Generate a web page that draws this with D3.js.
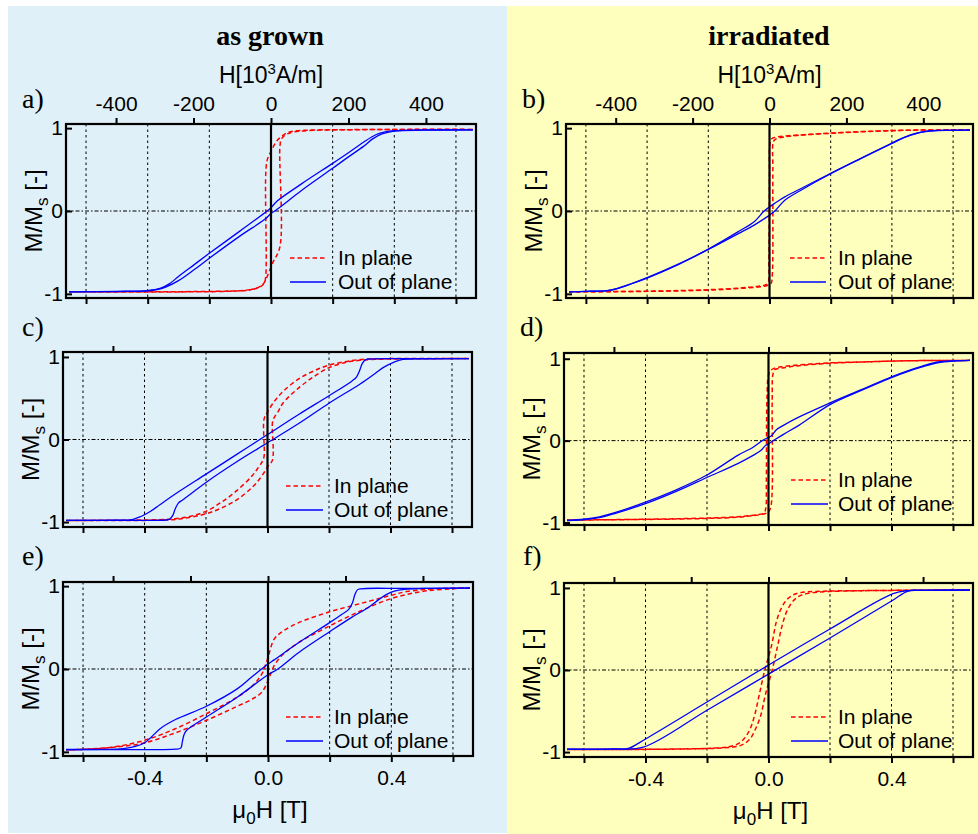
<!DOCTYPE html>
<html>
<head>
<meta charset="utf-8">
<script src="https://cdn.jsdelivr.net/npm/d3@7/dist/d3.min.js"></script>
<style>
  body { margin: 0; background: #ffffff; }
  svg { display: block; }
</style>
</head>
<body>
<svg id="chart" width="978" height="834"></svg>
<script>
// ---------- tick values and labels ----------
const fieldTicks = [-0.6, -0.4, -0.2, 0, 0.2, 0.4, 0.6];      // mu0*H [T]
const fieldLabels = [-0.4, 0, 0.4];                             // labelled field ticks
const hTicks = [-400, -200, 0, 200, 400];                       // H [10^3 A/m]
const mTicks = [-1, 0, 1];                                      // M/Ms
const columnTitles = ["as grown", "irradiated"];
const panelLetters = ["a)", "b)", "c)", "d)", "e)", "f)"];
const legendLabels = ["In plane", "Out of plane"];

// ---------- hysteresis branches: [mu0H (T), M/Ms] ----------
// a) as grown
const aInDown = [[0.655,0.985],[0.3,0.982],[0.15,0.978],[0.075,0.965],[0.05,0.94],[0.02,0.85],[0.0,0.72],[-0.012,0.62],[-0.017,0.45],[-0.017,-0.78],[-0.022,-0.87],[-0.04,-0.925],[-0.08,-0.955],[-0.15,-0.968],[-0.655,-0.975]];
const aInUp = [[-0.655,-0.975],[-0.15,-0.97],[-0.066,-0.95],[-0.035,-0.91],[-0.023,-0.87],[0.005,-0.63],[0.029,-0.43],[0.029,0.78],[0.034,0.87],[0.05,0.925],[0.075,0.955],[0.15,0.975],[0.655,0.985]];
const aOutDown = [[0.655,0.98],[0.5,0.978],[0.4,0.97],[0.37,0.955],[0.34,0.92],[0.3,0.83],[0.25,0.7],[0.2,0.575],[0.1,0.33],[0.02,0.12],[0,0.04],[-0.02,-0.02],[-0.1,-0.24],[-0.2,-0.51],[-0.25,-0.65],[-0.3,-0.79],[-0.33,-0.88],[-0.36,-0.935],[-0.4,-0.96],[-0.5,-0.97],[-0.655,-0.975]];
const aOutUp = [[-0.655,-0.975],[-0.5,-0.972],[-0.4,-0.965],[-0.37,-0.95],[-0.34,-0.915],[-0.3,-0.84],[-0.25,-0.71],[-0.2,-0.57],[-0.1,-0.3],[-0.02,-0.1],[0,-0.03],[0.02,0.02],[0.1,0.25],[0.2,0.515],[0.25,0.65],[0.3,0.78],[0.33,0.87],[0.36,0.93],[0.4,0.965],[0.5,0.975],[0.655,0.98]];

// b) irradiated
const bInDown = [[0.655,0.98],[0.45,0.975],[0.3,0.958],[0.2,0.94],[0.1,0.918],[0.05,0.905],[0.02,0.89],[0.006,0.87],[0.001,0.8],[0,0.4],[-0.002,-0.6],[-0.004,-0.86],[-0.012,-0.89],[-0.04,-0.91],[-0.1,-0.93],[-0.2,-0.95],[-0.4,-0.968],[-0.655,-0.975]];
const bInUp = [[-0.655,-0.975],[-0.4,-0.97],[-0.2,-0.955],[-0.1,-0.935],[-0.03,-0.915],[-0.008,-0.9],[0.005,-0.875],[0.009,-0.78],[0.011,0.5],[0.013,0.84],[0.022,0.872],[0.05,0.895],[0.1,0.915],[0.2,0.938],[0.3,0.956],[0.45,0.975],[0.655,0.98]];
const bOutDown = [[0.655,0.975],[0.55,0.972],[0.51,0.962],[0.48,0.94],[0.44,0.89],[0.4,0.82],[0.3,0.64],[0.2,0.455],[0.1,0.265],[0.05,0.17],[0.02,0.1],[0,0.05],[-0.02,-0.01],[-0.05,-0.13],[-0.1,-0.245],[-0.2,-0.46],[-0.3,-0.645],[-0.4,-0.805],[-0.45,-0.875],[-0.5,-0.937],[-0.53,-0.96],[-0.6,-0.97],[-0.655,-0.975]];
const bOutUp = [[-0.655,-0.975],[-0.6,-0.97],[-0.53,-0.962],[-0.5,-0.94],[-0.45,-0.878],[-0.4,-0.81],[-0.3,-0.65],[-0.2,-0.465],[-0.1,-0.27],[-0.05,-0.17],[-0.02,-0.1],[0,-0.05],[0.02,0.01],[0.05,0.13],[0.1,0.245],[0.2,0.45],[0.3,0.635],[0.4,0.815],[0.44,0.885],[0.48,0.935],[0.51,0.958],[0.55,0.97],[0.655,0.975]];

// c) as grown
const cInDown = [[0.655,0.98],[0.4,0.98],[0.33,0.975],[0.28,0.96],[0.2,0.9],[0.15,0.83],[0.1,0.73],[0.05,0.58],[0.02,0.45],[0.0,0.33],[-0.011,0.25],[-0.011,-0.2],[-0.016,-0.26],[-0.03,-0.34],[-0.05,-0.44],[-0.1,-0.62],[-0.15,-0.76],[-0.2,-0.87],[-0.25,-0.93],[-0.3,-0.96],[-0.4,-0.975],[-0.655,-0.98]];
const cInUp = [[-0.655,-0.98],[-0.4,-0.98],[-0.33,-0.975],[-0.28,-0.96],[-0.2,-0.9],[-0.15,-0.83],[-0.1,-0.73],[-0.05,-0.58],[-0.02,-0.45],[0.0,-0.33],[0.016,-0.25],[0.016,0.2],[0.021,0.26],[0.035,0.34],[0.05,0.44],[0.1,0.62],[0.15,0.76],[0.2,0.87],[0.25,0.93],[0.3,0.96],[0.4,0.975],[0.655,0.98]];
const cOutDown = [[0.655,0.98],[0.45,0.98],[0.33,0.975],[0.318,0.965],[0.308,0.92],[0.3,0.84],[0.29,0.76],[0.275,0.71],[0.2,0.53],[0.1,0.3],[0,0.06],[-0.1,-0.18],[-0.2,-0.42],[-0.3,-0.66],[-0.35,-0.79],[-0.38,-0.87],[-0.41,-0.93],[-0.44,-0.97],[-0.5,-0.978],[-0.655,-0.98]];
const cOutUp = [[-0.655,-0.98],[-0.45,-0.98],[-0.33,-0.975],[-0.318,-0.965],[-0.308,-0.92],[-0.3,-0.84],[-0.29,-0.77],[-0.275,-0.73],[-0.2,-0.52],[-0.1,-0.27],[0,-0.04],[0.1,0.19],[0.2,0.44],[0.3,0.67],[0.35,0.8],[0.38,0.88],[0.41,0.935],[0.44,0.97],[0.5,0.978],[0.655,0.98]];

// d) irradiated
const dInDown = [[0.655,0.98],[0.45,0.975],[0.3,0.96],[0.2,0.95],[0.1,0.925],[0.05,0.905],[0.02,0.885],[0.008,0.86],[0,0.8],[-0.005,0.5],[-0.007,-0.5],[-0.009,-0.83],[-0.015,-0.885],[-0.05,-0.91],[-0.1,-0.93],[-0.2,-0.945],[-0.4,-0.96],[-0.655,-0.97]];
const dInUp = [[-0.655,-0.97],[-0.4,-0.962],[-0.2,-0.95],[-0.1,-0.935],[-0.05,-0.915],[-0.015,-0.895],[0.0,-0.87],[0.008,-0.8],[0.012,0.5],[0.014,0.8],[0.02,0.865],[0.05,0.89],[0.1,0.915],[0.2,0.945],[0.3,0.96],[0.45,0.975],[0.655,0.98]];
const dOutDown = [[0.655,0.98],[0.6,0.975],[0.55,0.96],[0.5,0.91],[0.45,0.85],[0.4,0.78],[0.3,0.62],[0.2,0.46],[0.1,0.29],[0.05,0.19],[0.025,0.13],[0.01,0.06],[0,0.04],[-0.02,0.0],[-0.05,-0.08],[-0.1,-0.18],[-0.2,-0.42],[-0.3,-0.6],[-0.4,-0.75],[-0.5,-0.88],[-0.55,-0.93],[-0.6,-0.96],[-0.655,-0.975]];
const dOutUp = [[-0.655,-0.975],[-0.6,-0.965],[-0.55,-0.94],[-0.5,-0.89],[-0.4,-0.77],[-0.3,-0.62],[-0.2,-0.45],[-0.1,-0.28],[-0.05,-0.18],[-0.025,-0.12],[-0.01,-0.06],[0,-0.04],[0.02,0.01],[0.05,0.08],[0.1,0.19],[0.2,0.44],[0.3,0.61],[0.4,0.77],[0.45,0.84],[0.5,0.9],[0.55,0.95],[0.6,0.972],[0.655,0.98]];

// e) as grown
const eInDown = [[0.655,0.98],[0.55,0.97],[0.45,0.935],[0.4,0.89],[0.3,0.79],[0.2,0.69],[0.1,0.56],[0.05,0.46],[0.02,0.36],[0,0.14],[-0.02,-0.06],[-0.05,-0.2],[-0.1,-0.34],[-0.2,-0.54],[-0.3,-0.72],[-0.4,-0.86],[-0.5,-0.94],[-0.6,-0.97],[-0.655,-0.975]];
const eInUp = [[-0.655,-0.975],[-0.6,-0.97],[-0.5,-0.945],[-0.4,-0.89],[-0.3,-0.77],[-0.2,-0.62],[-0.1,-0.45],[-0.05,-0.36],[-0.02,-0.28],[0,-0.14],[0.02,0.04],[0.05,0.18],[0.1,0.32],[0.2,0.52],[0.3,0.7],[0.4,0.85],[0.5,0.935],[0.6,0.97],[0.655,0.98]];
const eOutDown = [[0.655,0.975],[0.45,0.972],[0.3,0.968],[0.29,0.955],[0.282,0.9],[0.274,0.8],[0.262,0.72],[0.24,0.66],[0.2,0.56],[0.1,0.32],[0.02,0.11],[0,0.06],[-0.054,-0.1],[-0.1,-0.24],[-0.2,-0.45],[-0.3,-0.61],[-0.35,-0.72],[-0.378,-0.82],[-0.4,-0.89],[-0.43,-0.935],[-0.47,-0.96],[-0.655,-0.97]];
const eOutUp = [[-0.655,-0.975],[-0.45,-0.972],[-0.3,-0.968],[-0.283,-0.955],[-0.278,-0.88],[-0.273,-0.8],[-0.265,-0.745],[-0.2,-0.58],[-0.1,-0.34],[0,-0.07],[0.032,0.0],[0.1,0.2],[0.2,0.45],[0.27,0.62],[0.324,0.74],[0.36,0.84],[0.385,0.9],[0.41,0.94],[0.443,0.962],[0.5,0.972],[0.655,0.975]];

// f) irradiated
const fInDown = [[0.655,0.975],[0.3,0.967],[0.15,0.957],[0.1,0.94],[0.08,0.915],[0.06,0.86],[0.04,0.74],[0.025,0.58],[0.01,0.3],[-0.012,0.0],[-0.03,-0.3],[-0.045,-0.55],[-0.06,-0.72],[-0.08,-0.84],[-0.1,-0.9],[-0.13,-0.935],[-0.2,-0.955],[-0.655,-0.97]];
const fInUp = [[-0.655,-0.97],[-0.3,-0.964],[-0.15,-0.95],[-0.1,-0.93],[-0.08,-0.9],[-0.06,-0.84],[-0.04,-0.7],[-0.025,-0.55],[-0.01,-0.3],[0.012,0.0],[0.03,0.3],[0.045,0.55],[0.06,0.72],[0.08,0.84],[0.1,0.9],[0.13,0.935],[0.2,0.957],[0.655,0.975]];
const fOutDown = [[0.655,0.975],[0.5,0.972],[0.454,0.968],[0.405,0.93],[0.2,0.5],[0,0.06],[-0.2,-0.39],[-0.4,-0.84],[-0.456,-0.955],[-0.5,-0.962],[-0.655,-0.965]];
const fOutUp = [[-0.655,-0.965],[-0.5,-0.962],[-0.407,-0.94],[-0.2,-0.49],[0,-0.05],[0.2,0.39],[0.4,0.84],[0.454,0.962],[0.5,0.97],[0.655,0.975]];

// ---------- layout ----------
const MU0 = 4e-7 * Math.PI;
const T_DOMAIN = [-0.665, 0.665];
const BG_LEFT = "#dff0f8";
const BG_RIGHT = "#ffffbd";
const RED = "#ff0000";
const BLUE = "#0000ff";
const SANS = "'Liberation Sans', Arial, Helvetica, sans-serif";
const SERIF = "'Liberation Serif', 'Times New Roman', serif";

const panels = [
  { row: 0, x: 66,  y: 124, w: 410, h: 174, yDom: [-1.05, 1.05], inPlane: [aInDown, aInUp], outPlane: [aOutDown, aOutUp], leg: [224, 260, 272, 134], letter: [22, 108] },
  { row: 0, x: 566, y: 124, w: 407, h: 174, yDom: [-1.05, 1.05], inPlane: [bInDown, bInUp], outPlane: [bOutDown, bOutUp], leg: [224, 260, 272, 134], letter: [522, 108] },
  { row: 1, x: 63,  y: 352, w: 409, h: 175, yDom: [-1.06, 1.06], inPlane: [cInDown, cInUp], outPlane: [cOutDown, cOutUp], leg: [223, 260, 271, 134], letter: [22, 336] },
  { row: 1, x: 564, y: 353, w: 409, h: 172, yDom: [-1.03, 1.07], inPlane: [dInDown, dInUp], outPlane: [dOutDown, dOutUp], leg: [227, 264, 274, 127], letter: [520, 336] },
  { row: 2, x: 63,  y: 582, w: 410, h: 174, yDom: [-1.05, 1.05], inPlane: [eInDown, eInUp], outPlane: [eOutDown, eOutUp], leg: [223, 260, 271, 135], letter: [22, 565] },
  { row: 2, x: 564, y: 583, w: 409, h: 174, yDom: [-1.06, 1.06], inPlane: [fInDown, fInUp], outPlane: [fOutDown, fOutUp], leg: [227, 264, 274, 134], letter: [523, 565] }
];

const svg = d3.select("#chart");

// column backgrounds
svg.append("rect").attr("x", 8).attr("y", 6).attr("width", 499).attr("height", 827).attr("fill", BG_LEFT);
svg.append("rect").attr("x", 507).attr("y", 6).attr("width", 471).attr("height", 828).attr("fill", BG_RIGHT);

// column titles
[270, 769].forEach((cx, i) => {
  svg.append("text").attr("x", cx).attr("y", 45).attr("text-anchor", "middle")
    .attr("font-family", SERIF).attr("font-weight", "bold").attr("font-size", 28)
    .text(columnTitles[i]);
});

function styleAxis(sel) {
  sel.attr("font-family", SANS).attr("font-size", 21);
  sel.select(".domain").remove();
  sel.selectAll(".tick line").attr("stroke", "#000").attr("stroke-width", 2);
  sel.selectAll(".tick text").attr("fill", "#000");
}

panels.forEach((p, i) => {
  const g = svg.append("g").attr("transform", `translate(${p.x},${p.y})`);
  const x = d3.scaleLinear().domain(T_DOMAIN).range([0, p.w]);
  const hx = d3.scaleLinear().domain(T_DOMAIN.map(t => t / MU0 / 1000)).range([0, p.w]);
  const y = d3.scaleLinear().domain(p.yDom).range([p.h, 0]);

  // dotted field grid
  g.selectAll("line.vgrid").data(fieldTicks.filter(v => v !== 0)).join("line")
    .attr("class", "vgrid")
    .attr("x1", d => x(d)).attr("x2", d => x(d)).attr("y1", 0).attr("y2", p.h)
    .attr("stroke", "#000").attr("stroke-width", 1).attr("stroke-dasharray", "2.5,3");
  // dash-dot zero magnetisation line
  g.append("line").attr("x1", 0).attr("x2", p.w).attr("y1", y(0)).attr("y2", y(0))
    .attr("stroke", "#000").attr("stroke-width", 1).attr("stroke-dasharray", "4,2,1.5,2");

  // legend (drawn under the curves)
  const [lx0, lx1, tx, ly] = p.leg;
  g.append("line").attr("x1", lx0).attr("x2", lx1).attr("y1", ly).attr("y2", ly)
    .attr("stroke", RED).attr("stroke-width", 1.5).attr("stroke-dasharray", "4.5,3");
  g.append("line").attr("x1", lx0).attr("x2", lx1).attr("y1", ly + 24).attr("y2", ly + 24)
    .attr("stroke", BLUE).attr("stroke-width", 1.4);
  legendLabels.forEach((lab, k) => {
    g.append("text").attr("x", tx).attr("y", ly + 24 * k).attr("dy", "0.35em")
      .attr("font-family", SANS).attr("font-size", 21).text(lab);
  });

  const line = d3.line().x(d => x(d[0])).y(d => y(d[1])).curve(d3.curveCatmullRom.alpha(0.5));
  p.inPlane.forEach(branch => {
    g.append("path").attr("d", line(branch)).attr("fill", "none")
      .attr("stroke", RED).attr("stroke-width", 1.5).attr("stroke-dasharray", "4.5,3");
  });
  p.outPlane.forEach(branch => {
    g.append("path").attr("d", line(branch)).attr("fill", "none")
      .attr("stroke", BLUE).attr("stroke-width", 1.3);
  });

  // zero field line
  g.append("line").attr("x1", x(0)).attr("x2", x(0)).attr("y1", 0).attr("y2", p.h)
    .attr("stroke", "#000").attr("stroke-width", 2.2);
  // frame
  g.append("rect").attr("width", p.w).attr("height", p.h).attr("fill", "none")
    .attr("stroke", "#000").attr("stroke-width", 2.2);

  // axes
  g.append("g").attr("transform", `translate(0,${p.h})`)
    .call(d3.axisBottom(x).tickValues(fieldTicks).tickSize(6).tickPadding(8)
      .tickFormat(d => (p.row === 2 && fieldLabels.includes(d)) ? d.toFixed(1) : ""))
    .call(styleAxis);
  g.append("g")
    .call(d3.axisTop(hx).tickValues(hTicks).tickSize(6).tickPadding(7)
      .tickFormat(d => p.row === 0 ? String(d) : ""))
    .call(styleAxis);
  g.append("g")
    .call(d3.axisLeft(y).tickValues(mTicks).tickSizeInner(-6).tickSizeOuter(0).tickPadding(3)
      .tickFormat(d => String(d)))
    .call(styleAxis);

  // y axis title M/Ms [-]
  const yt = g.append("text").attr("transform", `translate(-24,${p.h / 2}) rotate(-90)`)
    .attr("text-anchor", "middle").attr("font-family", SANS).attr("font-size", 24);
  yt.append("tspan").text("M/M");
  yt.append("tspan").attr("dy", 6).attr("font-size", 17).text("s");
  yt.append("tspan").attr("dy", -6).text(" [-]");

  // top axis title
  if (p.row === 0) {
    const ht = g.append("text").attr("x", p.w / 2).attr("y", -41).attr("text-anchor", "middle")
      .attr("font-family", SANS).attr("font-size", 23);
    ht.append("tspan").text("H[10");
    ht.append("tspan").attr("dy", -9).attr("font-size", 15).text("3");
    ht.append("tspan").attr("dy", 9).text("A/m]");
  }
  // bottom axis title
  if (p.row === 2) {
    const bt = g.append("text").attr("x", p.w / 2 + 2).attr("y", p.h + 62).attr("text-anchor", "middle")
      .attr("font-family", SANS).attr("font-size", 24);
    bt.append("tspan").text("\u03bc");
    bt.append("tspan").attr("dy", 6).attr("font-size", 17).text("0");
    bt.append("tspan").attr("dy", -6).text("H [T]");
  }

  // panel letter
  svg.append("text").attr("x", p.letter[0]).attr("y", p.letter[1])
    .attr("font-family", SERIF).attr("font-size", 28).text(panelLetters[i]);
});
</script>
</body>
</html>
